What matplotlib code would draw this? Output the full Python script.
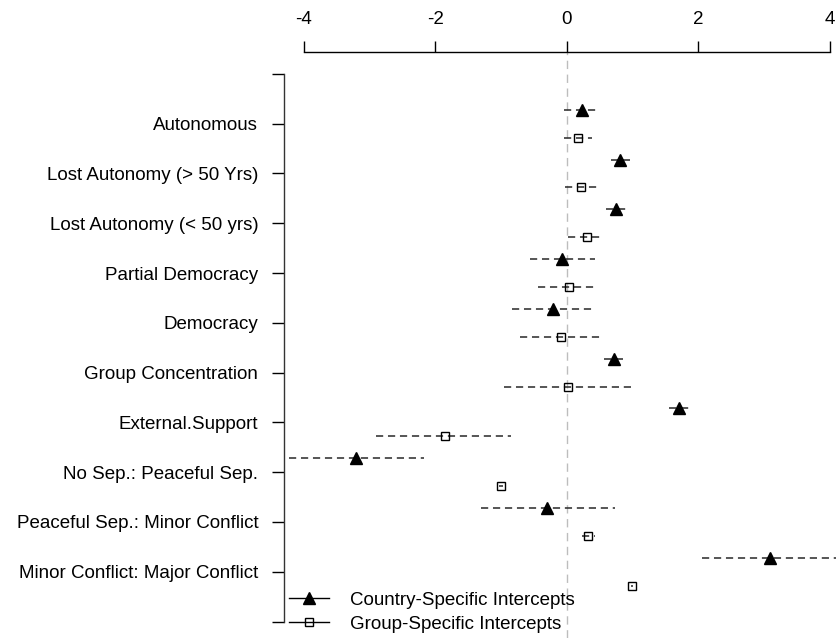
" coefficient dot plot: country vs group specific intercepts "
import matplotlib
matplotlib.use("Agg")
import matplotlib.pyplot as plt
from matplotlib.lines import Line2D

plt.rcParams.update({'font.family': ['Liberation Sans', 'DejaVu Sans'],
                     'font.size': 13.5})

categories = ["Autonomous", "Lost Autonomy (> 50 Yrs)", "Lost Autonomy (< 50 yrs)",
              "Partial Democracy", "Democracy", "Group Concentration",
              "External.Support", "No Sep.: Peaceful Sep.",
              "Peaceful Sep.: Minor Conflict", "Minor Conflict: Major Conflict"]

country_est = [0.23, 0.81, 0.75, -0.08, -0.21, 0.72, 1.70, -3.20, -0.30, 3.09]
country_lo = [-0.05, 0.67, 0.60, -0.56, -0.83, 0.57, 1.55, -4.22, -1.31, 2.05]
country_hi = [0.47, 0.96, 0.91, 0.43, 0.43, 0.86, 1.85, -2.17, 0.73, 4.13]

group_est = [0.17, 0.22, 0.30, 0.035, -0.09, 0.02, -1.85, -1.00, 0.32, 0.99]
group_lo = [-0.05, -0.03, 0.02, -0.44, -0.71, -0.96, -2.90, -1.03, 0.23, 0.97]
group_hi = [0.38, 0.47, 0.51, 0.44, 0.55, 1.00, -0.85, -0.97, 0.43, 1.01]

xticks = [-4, -2, 0, 2, 4]

W, H = 836, 638
fig = plt.figure(figsize=(W / 100, H / 100), dpi=100)
ax = fig.add_axes([284 / W, 0, (W - 284) / W, (H - 52) / H])

pos = list(range(1, len(categories) + 1))
off = 0.28
y_c = [p - off for p in pos]
y_g = [p + off for p in pos]
dash = (0, (4.5, 3))

ax.axvline(0, color="#bdbdbd", lw=1, ls=(0, (6, 4)), zorder=0)

ax.hlines(y_c, country_lo, country_hi, colors="#303030", lw=1.15, linestyles=dash)
ax.hlines(y_g, group_lo, group_hi, colors="#303030", lw=1.15, linestyles=dash)
ax.plot(country_est, y_c, "^", color="k", ms=8.5, zorder=5)
ax.plot(group_est, y_g, "s", mfc="none", mec="k", ms=6, mew=1, zorder=5)

ax.set_xlim(-4.30, 4.09)
ax.set_ylim(11.33, -0.44)

ax.xaxis.tick_top()
ax.set_xticks(xticks)
ax.set_xticklabels([str(t) for t in xticks])
ax.tick_params(axis="x", direction="out", length=8, width=1, pad=9)

ax.set_yticks([0] + pos + [len(categories) + 1])
ax.set_yticklabels([""] + categories + [""])
ax.tick_params(axis="y", direction="out", length=8.6, width=1, pad=10, colors="k")

for s in ["bottom", "right"]:
    ax.spines[s].set_visible(False)
ax.spines["top"].set_bounds(-4, 4)
ax.spines["left"].set_bounds(0, len(categories) + 1)
ax.spines["top"].set_linewidth(1)
ax.spines["left"].set_linewidth(1)
ax.spines["left"].set_color("#333333")

handles = [Line2D([], [], color="k", lw=1, marker="^", ms=8.5),
           Line2D([], [], color="k", lw=1, marker="s", mfc="none", ms=6, mew=1)]
ax.legend(handles, ["Country-Specific Intercepts", "Group-Specific Intercepts"],
          loc="lower left", bbox_to_anchor=(289 / W, 5 / H),
          bbox_transform=fig.transFigure, frameon=False, borderpad=0,
          borderaxespad=0, handlelength=2.15, handletextpad=1.1,
          labelspacing=0.38, fontsize=13.5)

fig.savefig("out.png", dpi=100)
